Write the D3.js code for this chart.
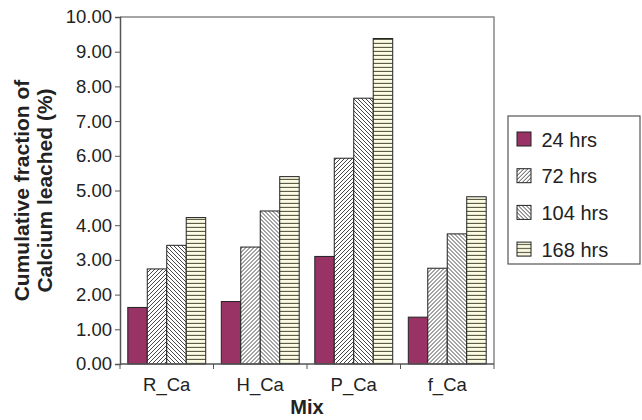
<!DOCTYPE html>
<html>
<head>
<meta charset="utf-8">
<script src="https://cdn.jsdelivr.net/npm/d3@7"></script>
<style>
  html, body { margin: 0; padding: 0; background: #fff; }
  svg { display: block; font-family: "Liberation Sans", Arial, sans-serif; }
</style>
</head>
<body>
<svg id="chart" width="642" height="420"></svg>
<script>
// Mixes and leaching durations
const mixes = ["R_Ca", "H_Ca", "P_Ca", "f_Ca"];
const durations = ["24 hrs", "72 hrs", "104 hrs", "168 hrs"];

// Cumulative fraction of calcium leached (%), one array per duration
const hrs24  = [1.63, 1.80, 3.10, 1.35];
const hrs72  = [2.74, 3.37, 5.93, 2.76];
const hrs104 = [3.42, 4.41, 7.66, 3.75];
const hrs168 = [4.22, 5.40, 9.38, 4.82];
const seriesValues = [hrs24, hrs72, hrs104, hrs168];

const yTicks = [0, 1, 2, 3, 4, 5, 6, 7, 8, 9, 10];

const svg = d3.select("#chart");
const defs = svg.append("defs");

// Fill patterns for the hatched series
function hatch(id, draw, bg) {
  const p = defs.append("pattern")
    .attr("id", id).attr("patternUnits", "userSpaceOnUse")
    .attr("width", 4).attr("height", 4);
  p.append("rect").attr("width", 4).attr("height", 4).attr("fill", bg);
  draw(p);
}
hatch("fwd", p => {
  p.append("path").attr("d", "M-1,1 l2,-2 M0,4 l4,-4 M3,5 l2,-2")
    .attr("stroke", "#333").attr("stroke-width", 0.9);
}, "#fff");
hatch("back", p => {
  p.append("path").attr("d", "M-1,3 l2,2 M0,0 l4,4 M3,-1 l2,2")
    .attr("stroke", "#333").attr("stroke-width", 0.9);
}, "#fff");
hatch("horiz", p => {
  p.append("path").attr("d", "M0,3.5 h4")
    .attr("stroke", "#5e5e45").attr("stroke-width", 1.3);
}, "#fbfbe6");

const fills = ["#993366", "url(#fwd)", "url(#back)", "url(#horiz)"];

const margin = { left: 120, top: 17, right: 494, bottom: 364 };

const x0 = d3.scaleBand().domain(mixes)
  .range([margin.left, margin.right]).paddingInner(0).paddingOuter(0);
const x1 = d3.scaleBand().domain(durations)
  .range([0, x0.bandwidth()]).paddingOuter(0.4).paddingInner(0);
const y = d3.scaleLinear().domain([0, 10]).range([margin.bottom, margin.top]);

// Plot frame (top and right edges)
svg.append("path")
  .attr("d", `M${margin.left},${margin.top}H${margin.right}V${margin.bottom}`)
  .attr("fill", "none").attr("stroke", "#888").attr("stroke-width", 1.5);

// Bars
const groups = svg.append("g").selectAll("g")
  .data(mixes).join("g")
  .attr("transform", d => `translate(${x0(d)},0)`);

groups.selectAll("rect")
  .data((m, i) => durations.map((dur, j) => ({ dur, j, v: seriesValues[j][i] })))
  .join("rect")
  .attr("x", d => x1(d.dur))
  .attr("width", x1.bandwidth())
  .attr("y", d => y(d.v))
  .attr("height", d => y(0) - y(d.v))
  .attr("fill", d => fills[d.j])
  .attr("stroke", "#222").attr("stroke-width", 1);

// Y axis
const yAxis = svg.append("g")
  .attr("transform", `translate(${margin.left},0)`)
  .call(d3.axisLeft(y).tickValues(yTicks).tickFormat(d3.format(".2f")).tickSize(5).tickPadding(3));
yAxis.select(".domain").attr("stroke", "#555").attr("stroke-width", 1.5);
yAxis.selectAll(".tick line").attr("stroke", "#555");
yAxis.selectAll("text").attr("font-size", 18.5).attr("fill", "#222");

// X axis with ticks at category boundaries
const xAxis = svg.append("g")
  .attr("transform", `translate(0,${margin.bottom})`);
xAxis.append("line")
  .attr("x1", margin.left).attr("x2", margin.right)
  .attr("stroke", "#555").attr("stroke-width", 1.5);
const bounds = mixes.map(m => x0(m)).concat([x0(mixes[mixes.length - 1]) + x0.bandwidth()]);
xAxis.selectAll("line.tk").data(bounds).join("line")
  .attr("class", "tk")
  .attr("x1", d => d).attr("x2", d => d).attr("y1", 0).attr("y2", 5)
  .attr("stroke", "#555").attr("stroke-width", 1);
xAxis.selectAll("text").data(mixes).join("text")
  .attr("x", d => x0(d) + x0.bandwidth() / 2)
  .attr("y", 27)
  .attr("text-anchor", "middle")
  .attr("font-size", 18.5).attr("fill", "#222")
  .text(d => d);

// Axis titles
svg.append("text")
  .attr("x", x0.range()[0] + (margin.right - margin.left) / 2)
  .attr("y", 414)
  .attr("text-anchor", "middle")
  .attr("font-size", 20).attr("font-weight", "bold").attr("fill", "#222")
  .text("Mix");

const yTitle = svg.append("text")
  .attr("transform", `translate(33,${(margin.top + margin.bottom) / 2}) rotate(-90)`)
  .attr("text-anchor", "middle")
  .attr("font-size", 21).attr("font-weight", "bold").attr("fill", "#222");
yTitle.append("tspan").attr("x", 0).attr("dy", "-0.2em").text("Cumulative fraction of");
yTitle.append("tspan").attr("x", 0).attr("dy", "1.12em").text("Calcium leached (%)");

// Legend
const legend = svg.append("g").attr("transform", "translate(508,116)");
legend.append("rect")
  .attr("width", 132).attr("height", 148)
  .attr("fill", "#fff").attr("stroke", "#555").attr("stroke-width", 1.2);
const items = legend.selectAll("g.item").data(durations).join("g")
  .attr("class", "item")
  .attr("transform", (d, i) => `translate(9,${23 + i * 36.7})`);
items.append("rect")
  .attr("y", -7).attr("width", 14).attr("height", 14)
  .attr("fill", (d, i) => fills[i])
  .attr("stroke", "#222").attr("stroke-width", 1);
items.append("text")
  .attr("x", 24.5).attr("y", 7.5)
  .attr("font-size", 20).attr("fill", "#222")
  .text(d => d);
</script>
</body>
</html>
